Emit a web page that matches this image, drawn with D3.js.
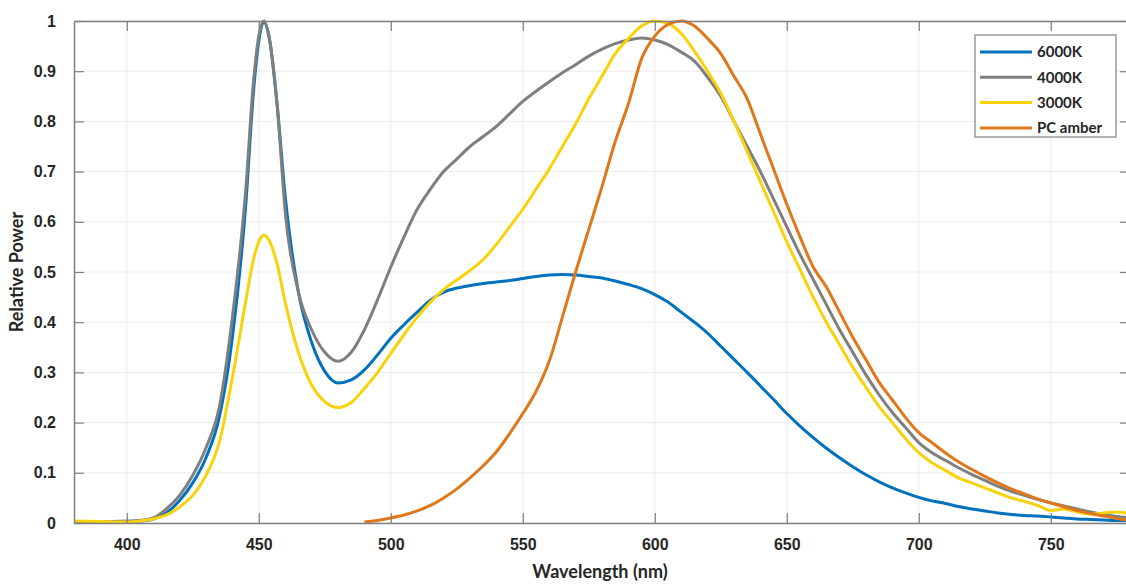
<!DOCTYPE html>
<html lang="en">
<head>
<meta charset="utf-8">
<script src="https://d3js.org/d3.v7.min.js"></script>
<style type="text/css">
  body {
    margin: 0;
    background: #fff;
    font-family: Lato, "Open Sans", sans-serif;
    font-weight: 700;
  }
  .tick text {
    fill: #262626;
    font-size: 16px;
    font-weight: 700;
  }
</style>
</head>
<body>
<script type="text/javascript">

  // wavelength samples (nm), shared by all series
  var wavelengths = [380,390,400,405,410,415,420,425,430,435,440,445,448,450,452,454,457,460,465,470,475,480,485,490,495,500,505,510,515,520,525,530,535,540,545,550,555,560,565,570,575,580,585,590,595,600,605,610,615,620,625,630,635,640,645,650,655,660,665,670,675,680,685,690,695,700,705,710,715,720,725,730,735,740,745,750,755,760,765,770,775,780];

  var cct6000 = [0.003,0.002,0.003,0.004,0.008,0.02,0.045,0.08,0.13,0.21,0.37,0.63,0.86,0.96,0.997,0.965,0.83,0.65,0.46,0.36,0.302,0.279,0.285,0.305,0.335,0.368,0.395,0.42,0.444,0.46,0.468,0.473,0.477,0.48,0.483,0.487,0.491,0.494,0.495,0.494,0.491,0.488,0.482,0.475,0.467,0.455,0.44,0.42,0.4,0.378,0.352,0.326,0.3,0.273,0.246,0.218,0.193,0.17,0.149,0.13,0.112,0.096,0.082,0.07,0.06,0.051,0.044,0.039,0.033,0.028,0.024,0.02,0.017,0.015,0.014,0.012,0.01,0.008,0.007,0.006,0.005,0.005];

  var cct4000 = [0.003,0.003,0.004,0.005,0.01,0.028,0.055,0.095,0.15,0.23,0.41,0.66,0.88,0.97,1.0,0.965,0.83,0.62,0.46,0.385,0.34,0.322,0.34,0.385,0.445,0.51,0.57,0.625,0.665,0.7,0.725,0.75,0.77,0.79,0.815,0.84,0.86,0.879,0.897,0.913,0.93,0.944,0.955,0.962,0.966,0.962,0.953,0.938,0.92,0.888,0.85,0.8,0.75,0.7,0.645,0.59,0.535,0.485,0.435,0.385,0.34,0.295,0.255,0.22,0.19,0.16,0.14,0.125,0.11,0.097,0.085,0.073,0.063,0.055,0.047,0.04,0.034,0.028,0.022,0.017,0.013,0.01];

  var cct3000 = [0.004,0.003,0.002,0.004,0.008,0.016,0.032,0.055,0.095,0.16,0.29,0.44,0.525,0.56,0.573,0.562,0.515,0.44,0.34,0.275,0.242,0.23,0.24,0.268,0.3,0.338,0.375,0.41,0.44,0.465,0.484,0.503,0.525,0.555,0.59,0.625,0.665,0.705,0.75,0.795,0.845,0.89,0.935,0.965,0.99,1.0,0.995,0.975,0.94,0.9,0.856,0.8,0.74,0.68,0.62,0.56,0.505,0.45,0.4,0.355,0.31,0.27,0.232,0.2,0.168,0.14,0.12,0.105,0.09,0.08,0.07,0.06,0.05,0.043,0.035,0.025,0.028,0.022,0.018,0.02,0.022,0.018];

  // PC amber has no emission below ~488 nm
  var pcAmber = [null,null,null,null,null,null,null,null,null,null,null,null,null,null,null,null,null,null,null,null,null,null,null,0.002,0.005,0.01,0.016,0.024,0.035,0.05,0.068,0.09,0.114,0.142,0.178,0.218,0.262,0.322,0.41,0.5,0.585,0.67,0.76,0.835,0.925,0.97,0.993,1.0,0.99,0.965,0.935,0.89,0.845,0.775,0.705,0.635,0.57,0.51,0.47,0.42,0.37,0.325,0.28,0.245,0.21,0.18,0.16,0.14,0.122,0.107,0.093,0.08,0.068,0.058,0.048,0.04,0.032,0.025,0.019,0.014,0.009,0.005];

  var seriesNames = ["6000K", "4000K", "3000K", "PC amber"];
  var seriesColors = ["#0072BD", "#7F7F7F", "#F8D30B", "#DE781A"];
  var seriesValues = [cct6000, cct4000, cct3000, pcAmber];

  var xTicks = [400,450,500,550,600,650,700,750];
  var yTicks = [0,0.1,0.2,0.3,0.4,0.5,0.6,0.7,0.8,0.9,1];

  var width = 1126;
  var height = 584;
  var margin = {top: 21, right: -4, bottom: 61, left: 74};
  var plotW = width - margin.left - margin.right;
  var plotH = height - margin.top - margin.bottom;

  var x = d3.scaleLinear().domain([380, 780]).range([0, plotW]);
  var y = d3.scaleLinear().domain([0, 1]).range([plotH, 0]);

  var svg = d3.select("body")
    .append("svg")
    .attr("width", width)
    .attr("height", height);

  var g = svg.append("g")
    .attr("transform", "translate(" + margin.left + "," + margin.top + ")");

  // grid
  g.append("g")
    .selectAll("line")
    .data(xTicks)
    .enter()
    .append("line")
    .attr("x1", function(d) { return x(d); })
    .attr("x2", function(d) { return x(d); })
    .attr("y1", 0)
    .attr("y2", plotH)
    .style("stroke", "#ebebeb")
    .style("stroke-width", 1);

  g.append("g")
    .selectAll("line")
    .data(yTicks)
    .enter()
    .append("line")
    .attr("x1", 0)
    .attr("x2", plotW)
    .attr("y1", function(d) { return y(d); })
    .attr("y2", function(d) { return y(d); })
    .style("stroke", "#ebebeb")
    .style("stroke-width", 1);

  g.append("clipPath")
    .attr("id", "clip")
    .append("rect")
    .attr("x", 0)
    .attr("y", -2)
    .attr("width", plotW)
    .attr("height", plotH + 2);

  // spectra
  var line = d3.line()
    .defined(function(d) { return d[1] !== null; })
    .x(function(d) { return x(d[0]); })
    .y(function(d) { return y(d[1]); })
    .curve(d3.curveMonotoneX);

  seriesValues.forEach(function(vals, i) {
    var pts = wavelengths.map(function(w, j) { return [w, vals[j]]; });
    g.append("path")
      .datum(pts)
      .attr("clip-path", "url(#clip)")
      .attr("d", line)
      .style("fill", "none")
      .style("stroke", seriesColors[i])
      .style("stroke-width", 3)
      .style("stroke-linejoin", "round");
  });

  // axes (ticks point inward, box on all sides)
  var axisColor = "#808080";

  var xAxis = g.append("g")
    .attr("transform", "translate(0," + plotH + ")")
    .call(d3.axisBottom(x).tickValues(xTicks).tickSizeInner(-10).tickSizeOuter(0).tickPadding(16));

  var xTop = g.append("g")
    .call(d3.axisTop(x).tickValues(xTicks).tickSizeInner(-10).tickSizeOuter(0).tickFormat(""));

  var yAxis = g.append("g")
    .call(d3.axisLeft(y).tickValues(yTicks).tickSizeInner(-10).tickSizeOuter(0).tickPadding(18)
      .tickFormat(function(d) { return d === 0 || d === 1 ? d3.format("d")(d) : d3.format(".1f")(d); }));

  var yRight = g.append("g")
    .attr("transform", "translate(" + plotW + ",0)")
    .call(d3.axisRight(y).tickValues(yTicks).tickSizeInner(-10).tickSizeOuter(0).tickFormat(""));

  [xAxis, xTop, yAxis, yRight].forEach(function(a) {
    a.select(".domain").style("stroke", axisColor).style("stroke-width", 1.5);
    a.selectAll(".tick line").style("stroke", axisColor).style("stroke-width", 1.2);
  });

  // axis titles
  svg.append("text")
    .attr("x", 600)
    .attr("y", 578)
    .attr("text-anchor", "middle")
    .style("font-size", "18px")
    .style("font-weight", 700)
    .style("fill", "#262626")
    .text("Wavelength (nm)");

  svg.append("text")
    .attr("transform", "translate(23," + (margin.top + plotH / 2) + ") rotate(-90)")
    .attr("text-anchor", "middle")
    .style("font-size", "18px")
    .style("font-weight", 700)
    .style("fill", "#262626")
    .text("Relative Power");

  // legend
  var legend = svg.append("g")
    .attr("transform", "translate(975,35)");

  legend.append("rect")
    .attr("width", 141)
    .attr("height", 102)
    .style("fill", "#fff")
    .style("stroke", "#808080")
    .style("stroke-width", 1.2);

  var item = legend.selectAll("g.item")
    .data(seriesNames)
    .enter()
    .append("g")
    .attr("class", "item")
    .attr("transform", function(d, i) { return "translate(0," + (17 + i * 25.3) + ")"; });

  item.append("line")
    .attr("x1", 5)
    .attr("x2", 57)
    .style("stroke", function(d, i) { return seriesColors[i]; })
    .style("stroke-width", 3);

  item.append("text")
    .attr("x", 62)
    .attr("dy", "0.35em")
    .style("font-size", "15px")
    .style("font-weight", 700)
    .style("fill", "#262626")
    .text(function(d) { return d; });

</script>
</body>
</html>
